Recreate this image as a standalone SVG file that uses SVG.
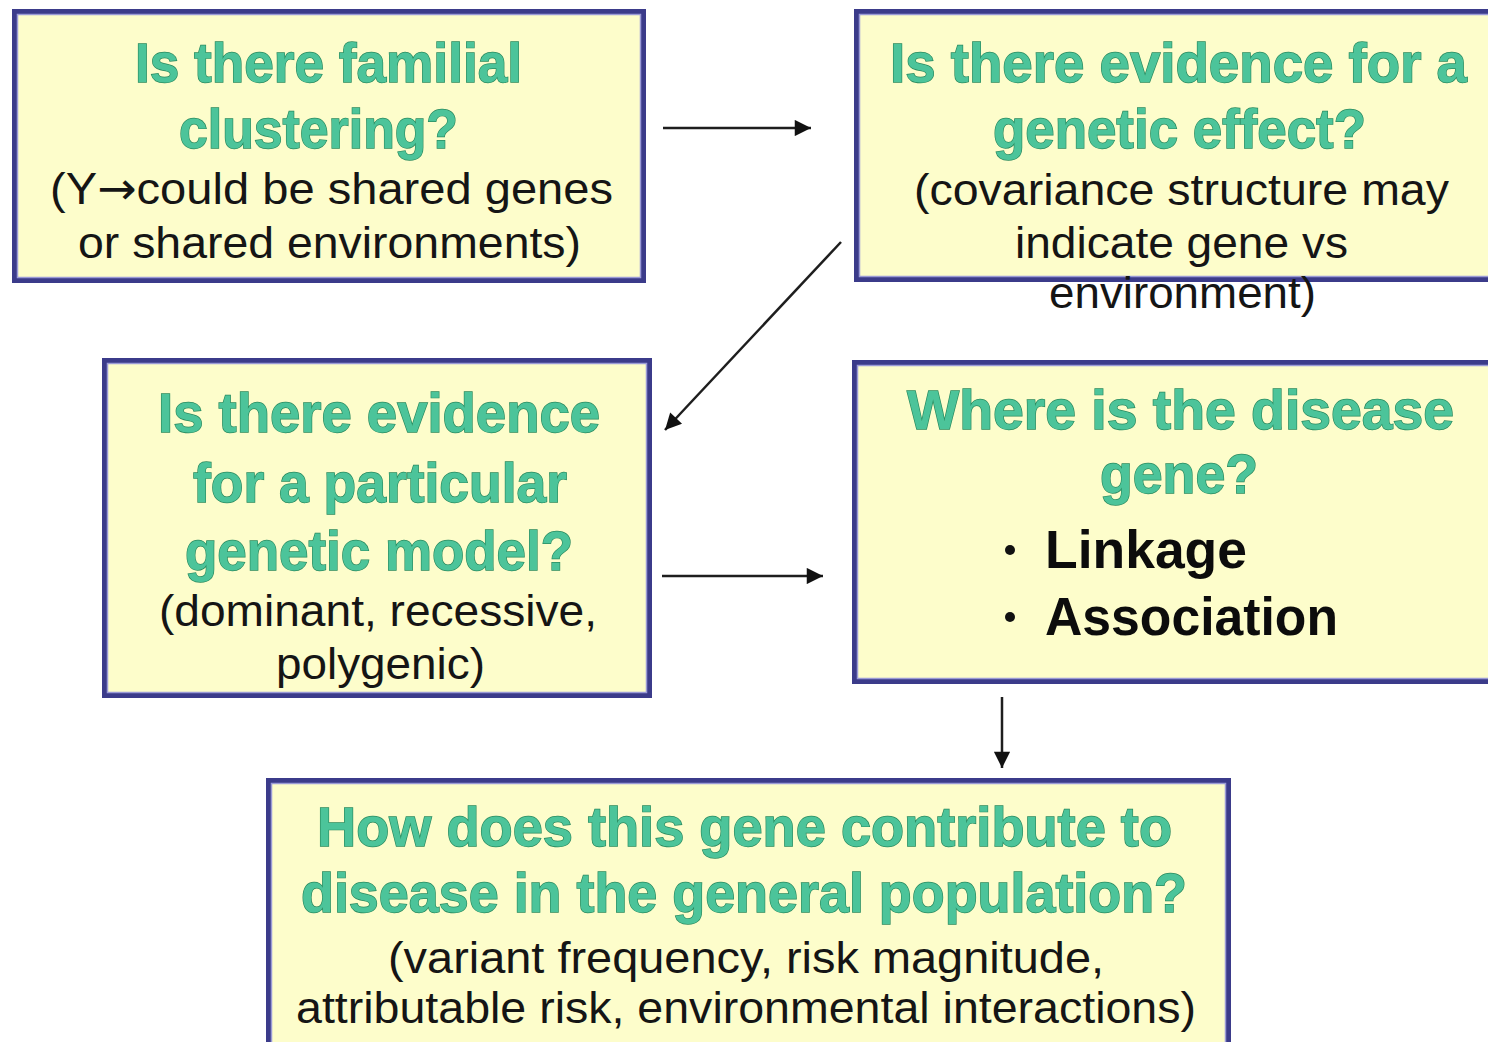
<svg xmlns="http://www.w3.org/2000/svg" width="1488" height="1042" viewBox="0 0 1488 1042">
  <defs>
    <style>
      .box { fill: #fdfdcb; stroke: #3b3b8a; stroke-width: 5; }
      .inner { fill: none; stroke: #9a9ad6; stroke-width: 1.5; }
      .title { font-family: "Liberation Sans", Arial, sans-serif; font-weight: bold; font-size: 56px; fill: #4cc49a; stroke: #2a8a5e; stroke-width: 1.4; paint-order: stroke; }
      .sub { font-family: "Liberation Sans", Arial, sans-serif; font-size: 45px; fill: #151515; }
      .sym { font-family: "DejaVu Sans", sans-serif; }
      .item { font-family: "Liberation Sans", Arial, sans-serif; font-weight: bold; font-size: 54px; fill: #0c0c0c; }
      .conn { stroke: #1e1e1e; stroke-width: 2.5; fill: none; marker-end: url(#head); }
    </style>
    <marker id="head" viewBox="0 0 10 10" refX="10" refY="5" markerWidth="7.5" markerHeight="6.5" markerUnits="strokeWidth" orient="auto">
      <path d="M0,0 L10,5 L0,10 z" fill="#111"/>
    </marker>
  </defs>

  <rect width="1488" height="1042" fill="#ffffff"/>

  <!-- connectors between the question boxes -->
  <g id="connectors">
    <line class="conn" x1="663" y1="128" x2="811" y2="128"/>
    <line class="conn" x1="841" y1="242" x2="665" y2="430"/>
    <line class="conn" x1="662" y1="576" x2="823" y2="576"/>
    <line class="conn" x1="1002" y1="697" x2="1002" y2="768"/>
  </g>

  <!-- familial clustering -->
  <g id="node-familial">
    <rect class="box" x="14.5" y="11.5" width="629" height="269"/>
    <rect class="inner" x="17.5" y="14.5" width="623" height="263"/>
    <text class="title" x="135" y="82" textLength="387" lengthAdjust="spacingAndGlyphs">Is there familial</text>
    <text class="title" x="179" y="148" textLength="279" lengthAdjust="spacingAndGlyphs">clustering?</text>
    <text class="sub" x="50" y="204" textLength="563" lengthAdjust="spacingAndGlyphs">(Y<tspan class="sym">→</tspan>could be shared genes</text>
    <text class="sub" x="78" y="258" textLength="503" lengthAdjust="spacingAndGlyphs">or shared environments)</text>
  </g>

  <!-- genetic effect -->
  <g id="node-genetic-effect">
    <rect class="box" x="856.5" y="11.5" width="660" height="268"/>
    <rect class="inner" x="859.5" y="14.5" width="660" height="262"/>
    <text class="title" x="890" y="82" textLength="577" lengthAdjust="spacingAndGlyphs">Is there evidence for a</text>
    <text class="title" x="993" y="148" textLength="373" lengthAdjust="spacingAndGlyphs">genetic effect?</text>
    <text class="sub" x="914" y="205" textLength="535" lengthAdjust="spacingAndGlyphs">(covariance structure may</text>
    <text class="sub" x="1015" y="258" textLength="333" lengthAdjust="spacingAndGlyphs">indicate gene vs</text>
    <text class="sub" x="1049" y="308" textLength="267" lengthAdjust="spacingAndGlyphs">environment)</text>
  </g>

  <!-- genetic model -->
  <g id="node-genetic-model">
    <rect class="box" x="104.5" y="360.5" width="545" height="335"/>
    <rect class="inner" x="107.5" y="363.5" width="539" height="329"/>
    <text class="title" x="158" y="432" textLength="442" lengthAdjust="spacingAndGlyphs">Is there evidence</text>
    <text class="title" x="193" y="502" textLength="374" lengthAdjust="spacingAndGlyphs">for a particular</text>
    <text class="title" x="185" y="570" textLength="388" lengthAdjust="spacingAndGlyphs">genetic model?</text>
    <text class="sub" x="159" y="626" textLength="438" lengthAdjust="spacingAndGlyphs">(dominant, recessive,</text>
    <text class="sub" x="276" y="679" textLength="209" lengthAdjust="spacingAndGlyphs">polygenic)</text>
  </g>

  <!-- disease gene location -->
  <g id="node-disease-gene">
    <rect class="box" x="854.5" y="362.5" width="660" height="319"/>
    <rect class="inner" x="857.5" y="365.5" width="660" height="313"/>
    <text class="title" x="907" y="429" textLength="547" lengthAdjust="spacingAndGlyphs">Where is the disease</text>
    <text class="title" x="1100" y="493" textLength="158" lengthAdjust="spacingAndGlyphs">gene?</text>
    <circle cx="1010" cy="550" r="5" fill="#111"/>
    <text class="item" x="1045" y="568" textLength="202" lengthAdjust="spacingAndGlyphs">Linkage</text>
    <circle cx="1010" cy="617" r="5" fill="#111"/>
    <text class="item" x="1045" y="635" textLength="293" lengthAdjust="spacingAndGlyphs">Association</text>
  </g>

  <!-- population contribution -->
  <g id="node-population">
    <rect class="box" x="268.5" y="780.5" width="960" height="290"/>
    <rect class="inner" x="271.5" y="783.5" width="954" height="290"/>
    <text class="title" x="317" y="846" textLength="855" lengthAdjust="spacingAndGlyphs">How does this gene contribute to</text>
    <text class="title" x="301" y="912" textLength="886" lengthAdjust="spacingAndGlyphs">disease in the general population?</text>
    <text class="sub" x="388" y="973" textLength="716" lengthAdjust="spacingAndGlyphs">(variant frequency, risk magnitude,</text>
    <text class="sub" x="296" y="1023" textLength="900" lengthAdjust="spacingAndGlyphs">attributable risk, environmental interactions)</text>
  </g>
</svg>
